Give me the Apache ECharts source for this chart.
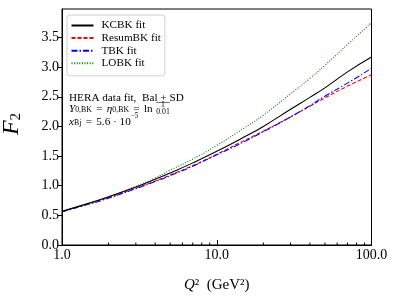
<!DOCTYPE html>
<html>
<head>
<meta charset="utf-8">
<script src="https://cdn.jsdelivr.net/npm/echarts@6/dist/echarts.min.js"></script>
<style>html,body{margin:0;padding:0;background:#fff}#c{width:399px;height:299px}</style>
</head>
<body>
<div id="c"></div>
<script>
// Q^2 sample points (GeV^2)
var q2 = [1, 1.5, 2, 3, 4, 5, 7, 10, 15, 20, 30, 40, 50, 70, 100];
var kcbk   = [0.57, 0.706, 0.813, 0.979, 1.108, 1.215, 1.385, 1.58, 1.82, 2.00, 2.29, 2.49, 2.65, 2.92, 3.17];
var resumbk= [0.56, 0.70, 0.80, 0.96, 1.08, 1.18, 1.34, 1.53, 1.76, 1.92, 2.16, 2.34, 2.48, 2.68, 2.87];
var tbk    = [0.56, 0.69, 0.79, 0.95, 1.07, 1.17, 1.33, 1.52, 1.74, 1.91, 2.16, 2.35, 2.51, 2.73, 2.98];
var lobk   = [0.57, 0.70, 0.81, 0.99, 1.13, 1.26, 1.45, 1.68, 1.97, 2.19, 2.55, 2.81, 3.03, 3.38, 3.75];
var seriesNames = ['KCBK fit', 'ResumBK fit', 'TBK fit', 'LOBK fit'];
var yTicks = [0.0, 0.5, 1.0, 1.5, 2.0, 2.5, 3.0, 3.5];
var xMinorTicks = [2, 3, 4, 5, 6, 7, 8, 9, 20, 30, 40, 50, 60, 70, 80, 90];

var SERIF = '"Liberation Serif", "DejaVu Serif", serif';
function pairs(ys) { return q2.map(function (x, i) { return [x, ys[i]]; }); }

// annotation built from text pieces laid out with measured widths
var ctx = document.createElement('canvas').getContext('2d');
function fontOf(size, italic) { return (italic ? 'italic ' : '') + size + 'px ' + SERIF; }
function tw(text, size, italic) { ctx.font = fontOf(size, italic); return ctx.measureText(text).width; }
var FS = 11.2, SS = 7.8;
function textRun(x0, baseline, pieces, out) {
  var x = x0;
  pieces.forEach(function (p) {
    if (p.gap) { x += p.gap; return; }
    var size = p.s || FS;
    out.push({type: 'text', x: x, y: baseline + (p.dy || 0), z: 10, silent: true,
      style: {text: p.t, font: fontOf(size, p.it), fill: '#000', textBaseline: 'alphabetic', textAlign: 'left'}});
    x += tw(p.t, size, p.it);
  });
  return x;
}
var graphics = [];
textRun(69, 92.3, [{t: 'HERA data fit,  Bal + SD'}], graphics);
var lnEnd = textRun(69, 104, [
  {t: 'Y', it: true}, {t: '0,BK', s: SS, dy: 2.2}, {gap: 1.5}, {t: ' = '}, {gap: 1.5},
  {t: 'η', it: true}, {t: '0,BK', s: SS, dy: 2.2}, {gap: 1.5}, {t: ' = '}, {gap: 1.5}, {t: 'ln'}, {gap: 3.5}
], graphics);
var fracW = tw('0.01', SS);
textRun(lnEnd + fracW / 2 - tw('1', SS) / 2, 101.4, [{t: '1', s: SS}], graphics);
graphics.push({type: 'line', z: 10, silent: true,
  shape: {x1: lnEnd, y1: 102.4, x2: lnEnd + fracW, y2: 102.4}, style: {stroke: '#000', lineWidth: 0.6}});
textRun(lnEnd, 108.4, [{t: '0.01', s: SS}], graphics);
textRun(69, 116.5, [
  {t: 'x', it: true}, {t: 'Bj', s: SS, dy: 2.2}, {gap: 1.5}, {t: ' = '}, {gap: 1.5}, {t: '5.6 · 10'}, {t: '−5', s: 7.2, dy: -3.6}
], graphics);

var chart = echarts.init(document.getElementById('c'), null, {renderer: 'canvas'});
var option = {
  animation: false,
  backgroundColor: '#fff',
  grid: {left: 62, right: 27.5, top: 9, bottom: 54, show: true, borderColor: '#000', borderWidth: 1,
    containLabel: false, outerBoundsMode: 'none'},
  xAxis: {
    type: 'log', logBase: 10, min: 1, max: 100,
    name: '{i|Q}{n|²  (GeV²)}', nameLocation: 'middle', nameGap: 33,
    nameTextStyle: {rich: {
      i: {fontFamily: SERIF, fontStyle: 'italic', fontSize: 15, color: '#000'},
      n: {fontFamily: SERIF, fontSize: 15, color: '#000'}
    }},
    axisLine: {lineStyle: {color: '#000', width: 1}},
    axisTick: {inside: true, length: 5, lineStyle: {color: '#000'}},
    axisLabel: {fontFamily: SERIF, fontSize: 14, color: '#000', margin: 3,
      formatter: function (v) { return Number(v).toFixed(1); }},
    splitLine: {show: false}
  },
  yAxis: {
    type: 'value', min: 0, max: 3.98, interval: 0.5,
    name: '{i|F}{s|2}', nameLocation: 'middle', nameGap: 38,
    nameRotate: 90,
    nameTextStyle: {rich: {
      i: {fontFamily: SERIF, fontStyle: 'italic', fontSize: 24, lineHeight: 24, color: '#000', padding: [0, 0, 0, 6]},
      s: {fontFamily: SERIF, fontSize: 15, lineHeight: 12, verticalAlign: 'bottom', color: '#000'}
    }},
    axisLine: {show: true, lineStyle: {color: '#000', width: 1}},
    axisTick: {show: true, length: 4, lineStyle: {color: '#000'}},
    axisLabel: {fontFamily: SERIF, fontSize: 14, color: '#000', margin: 3, showMaxLabel: false,
      formatter: function (v) {
        var r = Math.round(v * 10) / 10;
        return (yTicks.indexOf(r) >= 0 && Math.abs(v - r) < 1e-6) ? r.toFixed(1) : '';
      }},
    splitLine: {show: false}
  },
  legend: {
    data: seriesNames, orient: 'vertical', left: 67, top: 15,
    itemWidth: 22, itemHeight: 10, itemGap: 1.6,
    padding: [5, 4, 7, 3.5],
    borderColor: '#d0d0d0', borderWidth: 1, borderRadius: 3,
    backgroundColor: 'rgba(255,255,255,0.8)',
    itemStyle: {opacity: 0},
    textStyle: {fontFamily: SERIF, fontSize: 11.2, color: '#000', padding: [0, 0, 0, 3]}
  },
  series: [
    {name: seriesNames[0], type: 'line', data: pairs(kcbk), smooth: true, showSymbol: false, symbol: 'none',
      lineStyle: {color: '#000', width: 1.1, type: 'solid'}, itemStyle: {color: '#000'}, z: 4},
    {name: seriesNames[1], type: 'line', data: pairs(resumbk), smooth: true, showSymbol: false, symbol: 'none',
      lineStyle: {color: '#ff0000', width: 1.1, type: [4, 2]}, itemStyle: {color: '#ff0000'}, z: 3},
    {name: seriesNames[2], type: 'line', data: pairs(tbk), smooth: true, showSymbol: false, symbol: 'none',
      lineStyle: {color: '#0000ff', width: 1.1, type: [6, 2, 1.5, 2]}, itemStyle: {color: '#0000ff'}, z: 3},
    {name: seriesNames[3], type: 'line', data: pairs(lobk), smooth: true, showSymbol: false, symbol: 'none',
      lineStyle: {color: '#008000', width: 1.1, type: [1, 1.6]}, itemStyle: {color: '#008000'}, z: 3},
    {type: 'custom', silent: true, clip: false, z: 6,
      data: xMinorTicks.map(function (v) { return [v, 0]; }),
      renderItem: function (params, api) {
        var p = api.coord([api.value(0), 0]);
        return {type: 'line', shape: {x1: p[0], y1: p[1], x2: p[0], y2: p[1] - 2.5},
          style: {stroke: '#000', lineWidth: 1}};
      }}
  ],
  graphic: graphics
};
chart.setOption(option);
</script>
</body>
</html>
